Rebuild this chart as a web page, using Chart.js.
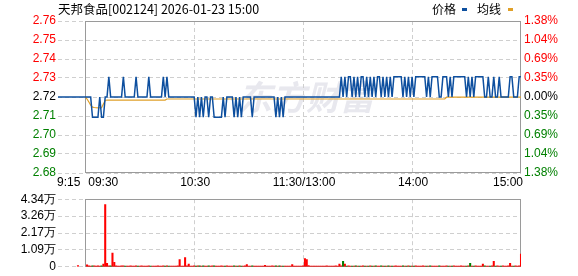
<!DOCTYPE html>
<html><head><meta charset="utf-8">
<script src="https://cdn.jsdelivr.net/npm/chart.js@4.4.1/dist/chart.umd.min.js"></script>
<style>
html,body{margin:0;padding:0;background:#fff;width:578px;height:276px;overflow:hidden}
#p{position:absolute;left:0;top:0}
#v{position:absolute;left:0;top:190px}
</style></head><body>
<canvas id="p" width="578" height="190"></canvas>
<canvas id="v" width="578" height="86"></canvas>
<script>
// ---------- data ----------
const sessions = [["09:15","11:30"],["13:01","15:00"]];
const categories = [];
sessions.forEach(([a,b])=>{
  const toM=s=>+s.slice(0,2)*60+ +s.slice(3);
  for(let m=toM(a);m<=toM(b);m++){categories.push(String(Math.floor(m/60)).padStart(2,"0")+":"+String(m%60).padStart(2,"0"));}
});
const price = [
2.72,2.72,2.72,2.72,2.72,2.72,2.72,2.72,2.72,2.72,2.72,2.72,2.72,2.72,2.72,2.72,
2.72,2.72,2.72,2.71,2.71,2.71,2.71,2.72,2.71,2.71,2.72,2.72,2.73,2.72,2.72,2.72,
2.72,2.72,2.72,2.72,2.73,2.72,2.72,2.72,2.72,2.72,2.72,2.73,2.72,2.72,2.72,2.72,
2.72,2.72,2.73,2.72,2.72,2.72,2.72,2.72,2.72,2.72,2.73,2.72,2.73,2.72,2.72,2.72,
2.72,2.72,2.72,2.72,2.72,2.72,2.72,2.72,2.72,2.72,2.72,2.72,2.71,2.72,2.71,2.72,
2.71,2.72,2.72,2.71,2.72,2.72,2.71,2.71,2.71,2.71,2.71,2.72,2.71,2.72,2.72,2.72,
2.72,2.71,2.72,2.71,2.72,2.71,2.72,2.72,2.72,2.72,2.72,2.71,2.72,2.72,2.72,2.72,
2.72,2.72,2.72,2.72,2.72,2.72,2.72,2.72,2.71,2.72,2.71,2.72,2.71,2.72,2.72,2.72,
2.72,2.72,2.72,2.72,2.72,2.72,2.72,2.72,2.72,2.72,2.72,2.72,2.72,2.72,2.72,2.72,
2.72,2.72,2.72,2.72,2.72,2.72,2.72,2.72,2.72,2.72,2.72,2.72,2.73,2.72,2.73,2.72,
2.73,2.73,2.72,2.73,2.72,2.73,2.72,2.73,2.73,2.72,2.73,2.72,2.73,2.72,2.73,2.72,
2.73,2.73,2.72,2.73,2.72,2.73,2.72,2.73,2.72,2.73,2.73,2.73,2.73,2.73,2.72,2.73,
2.72,2.73,2.72,2.73,2.72,2.73,2.73,2.73,2.73,2.73,2.73,2.72,2.73,2.72,2.73,2.73,
2.73,2.73,2.72,2.72,2.73,2.73,2.73,2.72,2.73,2.72,2.73,2.73,2.73,2.73,2.73,2.73,
2.73,2.72,2.73,2.72,2.73,2.72,2.73,2.73,2.73,2.73,2.73,2.72,2.72,2.73,2.72,2.72,
2.73,2.72,2.72,2.73,2.72,2.72,2.72,2.72,2.72,2.73,2.73,2.72,2.72,2.72,2.73,2.73
];
const avgPrice = [
null,null,null,null,null,null,null,null,null,null,null,null,null,null,null,2.7200,
2.7190,2.7175,2.7160,2.7150,2.7148,2.7147,2.7146,2.7147,2.7147,2.7165,2.7183,2.7185,2.7185,2.7185,2.7185,2.7185,
2.7185,2.7185,2.7185,2.7185,2.7185,2.7185,2.7185,2.7185,2.7185,2.7185,2.7185,2.7185,2.7185,2.7185,2.7185,2.7185,
2.7185,2.7185,2.7185,2.7185,2.7185,2.7185,2.7185,2.7185,2.7185,2.7185,2.7185,2.7185,2.7190,2.7190,2.7190,2.7190,
2.7190,2.7190,2.7190,2.7190,2.7190,2.7190,2.7190,2.7190,2.7190,2.7190,2.7190,2.7190,2.7190,2.7190,2.7190,2.7190,
2.7190,2.7190,2.7190,2.7190,2.7190,2.7190,2.7190,2.7190,2.7190,2.7190,2.7190,2.7190,2.7190,2.7190,2.7190,2.7190,
2.7190,2.7190,2.7190,2.7190,2.7190,2.7190,2.7190,2.7190,2.7190,2.7190,2.7190,2.7190,2.7190,2.7190,2.7190,2.7190,
2.7190,2.7190,2.7190,2.7190,2.7190,2.7190,2.7190,2.7190,2.7190,2.7190,2.7190,2.7190,2.7190,2.7190,2.7190,2.7190,
2.7190,2.7190,2.7190,2.7190,2.7190,2.7190,2.7190,2.7190,2.7190,2.7190,2.7190,2.7190,2.7190,2.7190,2.7190,2.7190,
2.7190,2.7190,2.7190,2.7190,2.7190,2.7190,2.7190,2.7190,2.7190,2.7190,2.7190,2.7190,2.7190,2.7190,2.7190,2.7190,
2.7190,2.7190,2.7190,2.7190,2.7190,2.7190,2.7190,2.7190,2.7190,2.7190,2.7190,2.7190,2.7190,2.7190,2.7190,2.7190,
2.7190,2.7190,2.7190,2.7190,2.7190,2.7190,2.7190,2.7190,2.7190,2.7190,2.7190,2.7190,2.7190,2.7190,2.7190,2.7190,
2.7190,2.7190,2.7190,2.7190,2.7190,2.7190,2.7190,2.7190,2.7190,2.7190,2.7190,2.7190,2.7190,2.7190,2.7190,2.7190,
2.7190,2.7190,2.7190,2.7190,2.7190,2.7190,2.7199,2.7199,2.7199,2.7199,2.7199,2.7199,2.7199,2.7199,2.7199,2.7199,
2.7199,2.7199,2.7199,2.7199,2.7199,2.7199,2.7199,2.7199,2.7199,2.7199,2.7199,2.7199,2.7199,2.7199,2.7199,2.7199,
2.7199,2.7199,2.7199,2.7199,2.7199,2.7199,2.7199,2.7199,2.7199,2.7199,2.7199,2.7199,2.7199,2.7199,2.7199,2.7199
];
const volume = [
null,null,null,null,null,null,null,null,null,null,null,800,null,null,null,null,
1300,600,500,700,600,500,600,500,700,1800,39900,2300,700,600,8800,2900,
600,500,400,600,700,500,400,500,600,500,400,700,500,400,600,500,
400,500,600,500,400,500,400,600,500,400,700,500,600,400,500,400,
500,400,600,4700,500,400,5900,600,1800,500,400,600,500,700,600,500,
600,500,400,600,500,700,600,500,400,500,600,400,500,600,500,400,
500,600,400,500,600,500,400,700,1500,500,400,600,500,400,500,400,
500,400,1000,500,400,500,600,400,700,500,600,500,400,500,400,500,
400,1500,500,400,500,400,500,600,5300,4700,800,500,400,500,400,500,
400,500,400,500,600,400,500,400,500,600,500,1800,600,3500,1800,500,
600,500,400,500,600,500,400,500,600,500,400,500,600,400,500,600,
500,400,600,500,400,500,600,400,500,400,600,500,400,500,600,400,
500,600,400,500,400,600,500,400,500,600,400,500,400,600,500,400,
500,400,600,500,400,500,600,400,500,400,600,500,400,500,600,400,
500,400,600,2300,500,400,600,500,400,500,1800,600,500,400,500,600,
3500,500,600,400,500,600,400,500,600,2300,500,400,600,500,700,8200
];
const priceTickLabels = ["2.68","2.69","2.70","2.71","2.72","2.73","2.74","2.75","2.76"];
const pctTickLabels = ["1.38%","1.04%","0.69%","0.35%","0.00%","0.35%","0.69%","1.04%","1.38%"];
const volTickLabels = ["0","1.09万","2.17万","3.26万","4.34万"];
const xTickTimes = ["09:15","09:30","10:30","11:30","14:00","15:00"];
const xTickLabels = ["9:15","09:30","10:30","11:30/13:00","14:00","15:00"];
const prevClose = 2.72;
const pctRange = 1.38;
const volMax = 43400;
const titleText = "天邦食品[002124] 2026-01-23 15:00";

// ---------- config ----------
const RED="#ff0000", GREEN="#008000", BLACK="#000000", GRID="#cfcfcf", FRAME="#9a9a9a";
const BLUE="#0d4f9f", ORANGE="#e0a028";
const yMin = prevClose*(1-pctRange/100), yMax = prevClose*(1+pctRange/100);
const openIdx = categories.indexOf("09:30");
const vGridIdx = ["10:30","11:30","14:00"].map(t=>categories.indexOf(t));
Chart.defaults.font.family = '"Liberation Sans", Arial, sans-serif';
Chart.defaults.font.size = 12;
Chart.defaults.color = "#000";

function evenTicks(lo,hi,n){return s=>{s.ticks=[];for(let i=0;i<n;i++){s.ticks.push({value:lo+(hi-lo)*i/(n-1)});}};}
const xScale = {
  type:"category", offset:false,
  grid:{offset:false, drawTicks:false, color:c=>vGridIdx.includes(c.index)?GRID:"rgba(0,0,0,0)"},
  border:{display:false, dash:[4,3]},
  ticks:{display:false, autoSkip:false},
  afterFit:s=>{s.height=0;}
};
function drawFrame(chart){
  const {ctx, chartArea:a} = chart;
  const l = Math.round(chart.scales.x.getPixelForValue(openIdx))+0.5;
  const r = Math.round(a.right)-0.5, t=Math.round(a.top)+0.5, b=Math.round(a.bottom)-0.5;
  ctx.save(); ctx.strokeStyle=FRAME; ctx.lineWidth=1; ctx.setLineDash([]);
  ctx.strokeRect(l,t,r-l,b-t); ctx.restore();
}
const pricePlugin = {
  id:"pricePlugin",
  beforeDraw(chart){
    const ctx=chart.ctx; ctx.save();
    ctx.font='italic bold 34px "Noto Sans CJK SC"';
    ctx.fillStyle="rgba(205,205,218,0.45)"; ctx.textBaseline="middle"; ctx.textAlign="left";
    ctx.fillText("东方财富",238,97); ctx.restore();
  },
  beforeDatasetsDraw(chart){ drawFrame(chart); },
  afterDraw(chart){
    const ctx=chart.ctx, xs=chart.scales.x; ctx.save();
    ctx.fillStyle="#000"; ctx.textBaseline="middle";
    ctx.font='12.5px "Noto Sans CJK SC"'; ctx.textAlign="left";
    ctx.fillText(titleText,58,9);
    // legend
    ctx.font='12px "Noto Sans CJK SC"';
    ctx.fillText("价格",432,9); ctx.fillStyle=BLUE; ctx.fillRect(462,8,5,3);
    ctx.fillStyle="#000"; ctx.fillText("均线",477,9); ctx.fillStyle=ORANGE; ctx.fillRect(508,8,5,3);
    // x labels
    ctx.fillStyle="#000"; ctx.font='12px "Liberation Sans"';
    xTickTimes.forEach((t,i)=>{
      const x=xs.getPixelForValue(categories.indexOf(t));
      let al="center", dx=1;
      if(i===0){al="left";dx=-1;} else if(i===1){al="left";dx=3;} else if(i===xTickTimes.length-1){al="right";dx=2;}
      ctx.textAlign=al; ctx.fillText(xTickLabels[i],x+dx,183);
    });
    ctx.restore();
  }
};
const tickColor = c=> c.index>4?RED:(c.index<4?GREEN:BLACK);
new Chart(document.getElementById("p"),{
  type:"line",
  data:{labels:categories, datasets:[
    {label:"价格", data:price, borderColor:BLUE, borderWidth:1.5, pointRadius:0, tension:0, fill:false},
    {label:"均线", data:avgPrice, borderColor:ORANGE, borderWidth:1.2, pointRadius:0, tension:0, fill:false}
  ]},
  options:{
    responsive:false, animation:false, devicePixelRatio:1,
    layout:{padding:{top:21,bottom:17,left:0,right:0}},
    plugins:{legend:{display:false},tooltip:{enabled:false}},
    scales:{
      x:xScale,
      y:{position:"left", min:yMin, max:yMax, afterBuildTicks:evenTicks(yMin,yMax,9),
         grid:{color:GRID, drawTicks:false}, border:{display:false,dash:[4,3]},
         ticks:{padding:2, autoSkip:false, color:tickColor, callback:(v,i)=>priceTickLabels[i]},
         afterFit:s=>{s.width=58;}},
      y2:{position:"right", min:yMin, max:yMax, afterBuildTicks:evenTicks(yMin,yMax,9),
         grid:{display:false, drawTicks:false}, border:{display:false},
         ticks:{padding:3, autoSkip:false, color:tickColor, callback:(v,i)=>pctTickLabels[i]},
         afterFit:s=>{s.width=57;}}
    }
  },
  plugins:[pricePlugin]
});
new Chart(document.getElementById("v"),{
  type:"bar",
  data:{labels:categories, datasets:[{label:"成交量", data:volume, borderWidth:0, barThickness:1.4,
    backgroundColor:c=>{const i=c.dataIndex; return (i>0&&price[i]<price[i-1])?GREEN:RED;}}]},
  options:{
    responsive:false, animation:false, devicePixelRatio:1,
    layout:{padding:{top:6,bottom:6,left:0,right:57}},
    plugins:{legend:{display:false},tooltip:{enabled:false}},
    scales:{
      x:Object.assign({},xScale,{grid:Object.assign({},xScale.grid)}),
      y:{position:"left", min:0, max:volMax, afterBuildTicks:evenTicks(0,volMax,5),
         grid:{color:GRID, drawTicks:false}, border:{display:false,dash:[4,3]},
         ticks:{padding:2, autoSkip:false, color:"#000", callback:(v,i)=>volTickLabels[i]},
         afterFit:s=>{s.width=58;}}
    }
  },
  plugins:[{id:"volFrame", beforeDatasetsDraw(chart){drawFrame(chart);}}]
});
</script>
</body></html>
